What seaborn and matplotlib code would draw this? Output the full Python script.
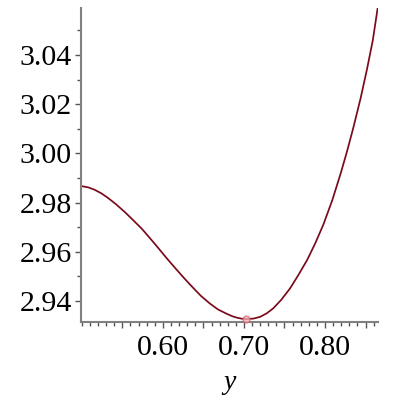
import numpy as np
import pandas as pd
import matplotlib
matplotlib.use("Agg")
import matplotlib.pyplot as plt
from matplotlib.ticker import MultipleLocator, FixedLocator, FixedFormatter
import seaborn as sns

# values
x_vals = [0.500, 0.508, 0.516, 0.524, 0.532, 0.542, 0.553, 0.563, 0.574, 0.584,
          0.594, 0.604, 0.615, 0.626, 0.637, 0.647, 0.658, 0.668, 0.679, 0.686,
          0.692, 0.698, 0.704, 0.712, 0.720, 0.728, 0.736, 0.746, 0.757, 0.767,
          0.778, 0.788, 0.798, 0.809, 0.819, 0.827, 0.835, 0.844, 0.852, 0.859, 0.865]
y_vals = [2.9867, 2.9862, 2.9852, 2.9838, 2.9820, 2.9794, 2.9762, 2.9730, 2.9694, 2.9656,
          2.9617, 2.9577, 2.9535, 2.9494, 2.9455, 2.9421, 2.9390, 2.9366, 2.9348, 2.9338,
          2.9332, 2.9328, 2.9327, 2.9329, 2.9336, 2.9350, 2.9370, 2.9405, 2.9452, 2.9505,
          2.9567, 2.9635, 2.9711, 2.9810, 2.9915, 3.0006, 3.0105, 3.0225, 3.0345, 3.0460, 3.0591]
min_x = [0.703]
min_y = [2.9327]

x_major = [0.55, 0.60, 0.65, 0.70, 0.75, 0.80, 0.85]
x_labels = ['', '0.60', '', '0.70', '', '0.80', '']
y_major = [2.94, 2.96, 2.98, 3.00, 3.02, 3.04]
y_labels = ['2.94', '2.96', '2.98', '3.00', '3.02', '3.04']

df = pd.DataFrame({'y': x_vals, 'f': y_vals})

sns.set_style("ticks")
plt.rcParams['font.family'] = ['Liberation Serif', 'DejaVu Serif']

fig = plt.figure(figsize=(4, 4), dpi=100)
ax = fig.add_axes([0.2025, 0.195, 0.7425, 0.785])

sns.lineplot(data=df, x='y', y='f', sort=False, estimator=None,
             color='#7a0a1a', linewidth=1.25, ax=ax)
ax.scatter(min_x, min_y, s=24, facecolor='#f4b0b6', edgecolor='#e0606c',
           linewidth=1.0, alpha=0.75, zorder=5, clip_on=False)

ax.set_xlim(0.499, 0.8654)
ax.set_ylim(2.9315, 3.0591)

ax.xaxis.set_major_locator(FixedLocator(x_major))
ax.xaxis.set_major_formatter(FixedFormatter(x_labels))
ax.xaxis.set_minor_locator(MultipleLocator(0.01))
ax.yaxis.set_major_locator(FixedLocator(y_major))
ax.yaxis.set_major_formatter(FixedFormatter(y_labels))
ax.yaxis.set_minor_locator(MultipleLocator(0.01))

ax.tick_params(which='major', length=4.5, width=1.0, color='#555555',
               labelsize=21.5, labelcolor='black', pad=2)
ax.tick_params(which='minor', length=3, width=1.0, color='#555555')
ax.tick_params(axis='x', which='major', pad=5)

for side in ['top', 'right']:
    ax.spines[side].set_visible(False)
for side in ['left', 'bottom']:
    ax.spines[side].set_color('#808080')
    ax.spines[side].set_linewidth(1.5)

ax.set_xlabel('y', fontstyle='italic', fontsize=20, labelpad=6, color='black')
ax.set_ylabel('')

fig.savefig('out.png', dpi=100)
